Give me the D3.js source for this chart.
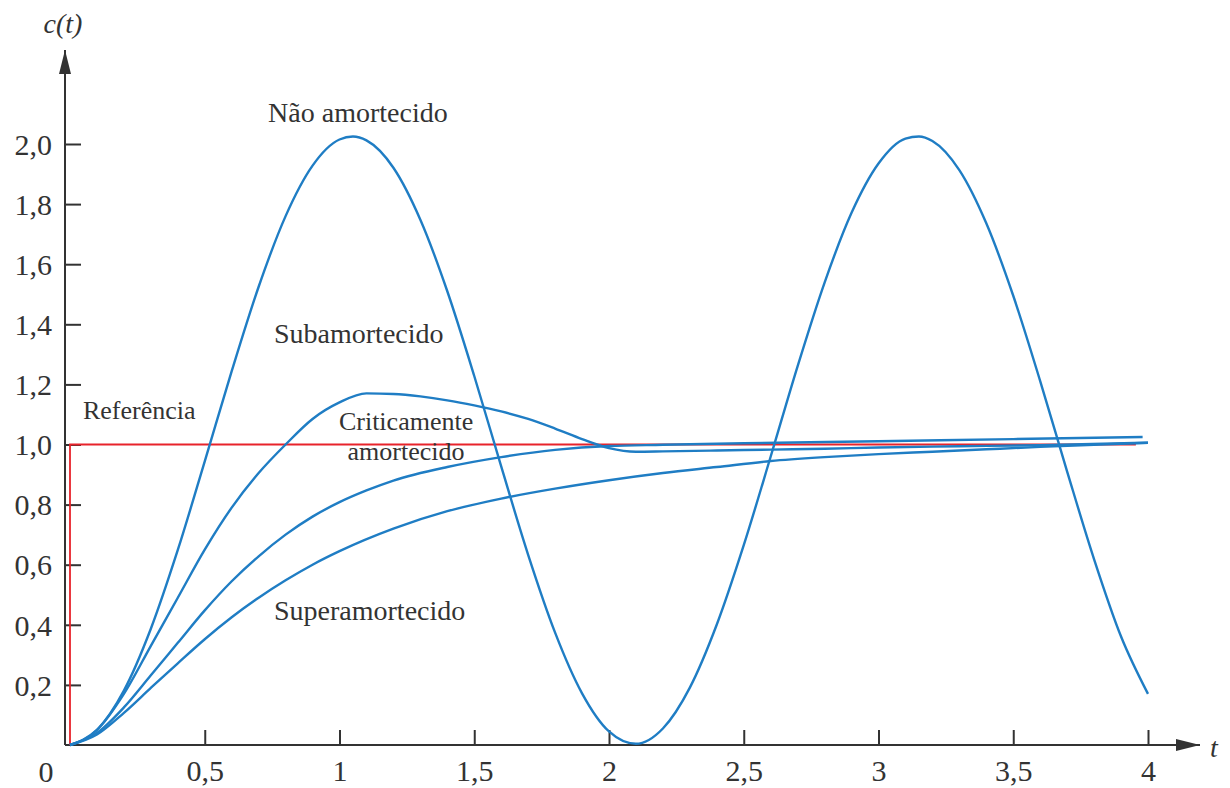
<!DOCTYPE html>
<html>
<head>
<meta charset="utf-8">
<script src="https://cdn.jsdelivr.net/npm/d3@7"></script>
<style>
  html, body { margin: 0; padding: 0; background: #fff; }
  svg text { font-family: "Liberation Serif", "Times New Roman", Tinos, "DejaVu Serif", "Noto Serif", serif; fill: #333; }
  .tick line { stroke: #333; stroke-width: 2; }
  .tick text { font-size: 30px; }
  .curve { fill: none; stroke: #1f7dc4; stroke-width: 2.4; }
  .ref { fill: none; stroke: #e8232b; stroke-width: 1.8; }
  .lbl { font-size: 28px; }
</style>
</head>
<body>
<svg id="chart" width="1230" height="788"></svg>
<script>
  // values, t in seconds
  const undampedT = [0, 0.1, 0.2, 0.3, 0.4, 0.5, 0.6, 0.7, 0.8, 0.9, 1.0, 1.05, 1.1, 1.2, 1.3, 1.4, 1.5, 1.6, 1.7, 1.8, 1.9, 2.0,
                     2.1, 2.2, 2.3, 2.4, 2.5, 2.6, 2.7, 2.8, 2.9, 3.0, 3.1, 3.15, 3.2, 3.3, 3.4, 3.5, 3.6, 3.7, 3.8, 3.9, 4.0];
  const undampedC = [0, 0.05, 0.181, 0.387, 0.649, 0.944, 1.244, 1.525, 1.76, 1.928, 2.015, 2.025, 2.012, 1.921, 1.748, 1.51, 1.228, 0.927, 0.633, 0.374, 0.172, 0.045,
                     0.004, 0.055, 0.191, 0.401, 0.665, 0.96, 1.261, 1.539, 1.771, 1.935, 2.018, 2.025, 2.01, 1.913, 1.736, 1.495, 1.211, 0.91, 0.618, 0.361, 0.17];

  const underT = [0, 0.1, 0.2, 0.3, 0.4, 0.5, 0.6, 0.7, 0.8, 0.9, 1.0, 1.1, 1.2, 1.3, 1.4, 1.5, 1.6, 1.7, 1.8, 1.9, 2.0, 2.1, 2.2,
                  2.4, 2.6, 2.8, 3.0, 3.3, 3.6, 4.0];
  const underC = [0, 0.05, 0.17, 0.33, 0.49, 0.65, 0.79, 0.905, 1.0, 1.085, 1.14, 1.17, 1.168, 1.16, 1.147, 1.13, 1.11, 1.085, 1.053, 1.018, 0.988, 0.976, 0.977,
                  0.98, 0.983, 0.986, 0.99, 0.994, 0.998, 1.006];

  const criticalT = [0, 0.1, 0.2, 0.3, 0.4, 0.5, 0.6, 0.7, 0.8, 0.9, 1.0, 1.1, 1.2, 1.4, 1.6, 1.8, 2.0, 2.2, 2.5, 3.0, 3.5, 3.98];
  const criticalC = [0, 0.04, 0.125, 0.232, 0.34, 0.448, 0.545, 0.628, 0.7, 0.76, 0.808, 0.847, 0.88, 0.925, 0.958, 0.982, 0.995, 0.999, 1.004, 1.011, 1.018, 1.025];

  const overT = [0, 0.1, 0.2, 0.3, 0.4, 0.5, 0.6, 0.7, 0.8, 0.9, 1.0, 1.2, 1.4, 1.6, 1.8, 2.0, 2.2, 2.4, 2.6, 2.8, 3.0, 3.2, 3.4, 3.6, 3.8, 4.0];
  const overC = [0, 0.035, 0.107, 0.19, 0.272, 0.352, 0.425, 0.49, 0.548, 0.6, 0.645, 0.72, 0.778, 0.82, 0.853, 0.881, 0.905, 0.925, 0.945, 0.958, 0.968, 0.976, 0.984, 0.992, 0.999, 1.006];

  // unit step reference
  const refT = [0, 0, 3.955];
  const refC = [0, 1, 1];

  const xTicks = [0.5, 1, 1.5, 2, 2.5, 3, 3.5, 4];
  const xTickLabels = ["0,5", "1", "1,5", "2", "2,5", "3", "3,5", "4"];
  const yTicks = [0.2, 0.4, 0.6, 0.8, 1.0, 1.2, 1.4, 1.6, 1.8, 2.0];
  const yTickLabels = ["0,2", "0,4", "0,6", "0,8", "1,0", "1,2", "1,4", "1,6", "1,8", "2,0"];

  const labelText = ["Não amortecido", "Subamortecido", "Referência", "Criticamente", "amortecido", "Superamortecido"];
  const labelT = [0.735, 0.757, 0.048, 1.247, 1.247, 0.757];
  const labelC = [2.073, 1.338, 1.085, 1.048, 0.95, 0.416];
  const labelAnchor = ["start", "start", "start", "middle", "middle", "start"];

  const AXIS_X = 65;
  const svg = d3.select("#chart");

  const x = d3.scaleLinear().domain([0, 4]).range([70, 1148]);
  const y = d3.scaleLinear().domain([0, 2]).range([745, 144]);

  const pairs = (ts, cs) => ts.map((t, i) => [t, cs[i]]);

  svg.append("defs").append("marker")
    .attr("id", "arrow").attr("markerUnits", "userSpaceOnUse")
    .attr("viewBox", "0 0 24 12").attr("markerWidth", 24).attr("markerHeight", 12)
    .attr("refX", 24).attr("refY", 6).attr("orient", "auto")
    .append("path").attr("d", "M0,0L24,6L0,12Z").attr("fill", "#333");

  // axes: ticks point inward, domain lines drawn separately to carry the arrows
  const gx = svg.append("g").attr("transform", `translate(0,${y(0)})`)
    .call(d3.axisBottom(x).tickValues(xTicks).tickSize(-15).tickPadding(15)
      .tickFormat((d, i) => xTickLabels[i]));
  gx.select(".domain").remove();

  const gy = svg.append("g").attr("transform", `translate(${AXIS_X},0)`)
    .call(d3.axisLeft(y).tickValues(yTicks).tickSize(-16).tickPadding(13)
      .tickFormat((d, i) => yTickLabels[i]));
  gy.select(".domain").remove();
  gy.selectAll(".tick text").attr("dy", "0.34em");
  svg.selectAll("g").attr("font-family", null);

  svg.append("line")
    .attr("x1", AXIS_X).attr("y1", y(0)).attr("x2", 1200).attr("y2", y(0))
    .attr("stroke", "#333").attr("stroke-width", 2).attr("marker-end", "url(#arrow)");
  svg.append("line")
    .attr("x1", AXIS_X).attr("y1", y(0)).attr("x2", AXIS_X).attr("y2", 50)
    .attr("stroke", "#333").attr("stroke-width", 2).attr("marker-end", "url(#arrow)");

  svg.append("text").attr("x", 46).attr("y", y(0) + 37)
    .attr("text-anchor", "middle").style("font-size", "30px").text("0");
  svg.append("text").attr("x", 1214).attr("y", 757)
    .attr("text-anchor", "middle").style("font-size", "28px").style("font-style", "italic").text("t");
  svg.append("text").attr("x", 63).attr("y", 33)
    .attr("text-anchor", "middle").style("font-size", "28px").style("font-style", "italic").text("c(t)");

  const line = d3.line().x(d => x(d[0])).y(d => y(d[1]));
  const smooth = d3.line().x(d => x(d[0])).y(d => y(d[1])).curve(d3.curveMonotoneX);

  svg.append("path").attr("class", "ref").attr("d", line(pairs(refT, refC)));

  [[overT, overC], [criticalT, criticalC], [underT, underC], [undampedT, undampedC]].forEach(([ts, cs]) => {
    svg.append("path").attr("class", "curve").attr("d", smooth(pairs(ts, cs)));
  });

  svg.selectAll("text.lbl").data(labelText).join("text")
    .attr("class", "lbl")
    .attr("x", (d, i) => x(labelT[i]))
    .attr("y", (d, i) => y(labelC[i]))
    .attr("text-anchor", (d, i) => labelAnchor[i])
    .style("font-size", (d, i) => d === "Referência" ? "26px" : (i === 3 || i === 4 ? "26px" : null))
    .text(d => d);
</script>
</body>
</html>
